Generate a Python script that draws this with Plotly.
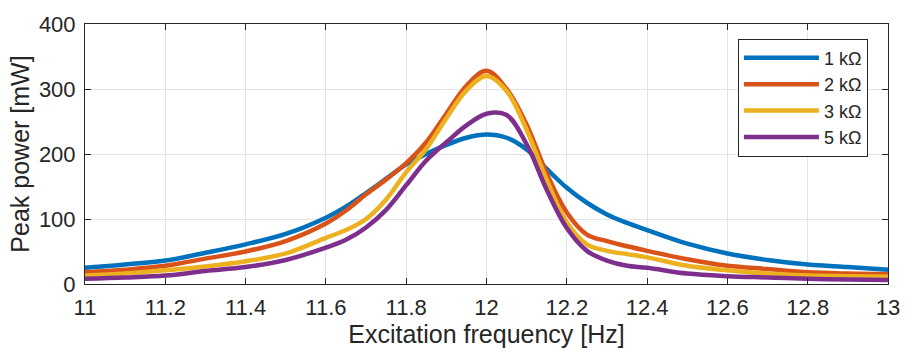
import plotly.graph_objects as go

freq = [11.0, 11.1, 11.2, 11.3, 11.4, 11.5, 11.6, 11.65, 11.7, 11.75, 11.8, 11.85, 11.9, 11.95,
        12.0, 12.05, 12.1, 12.15, 12.2, 12.25, 12.3, 12.35, 12.4, 12.5, 12.6, 12.7, 12.8, 12.9, 13.0]

p_1k = [25, 30, 36, 48, 61, 77, 102, 119, 140, 162, 184, 200, 214, 225,
        230, 225, 207, 177, 148, 125, 107, 94, 83, 62, 47, 37, 30, 26, 22]
p_2k = [18, 22, 28, 39, 50, 66, 93, 113, 138, 161, 186, 218, 262, 305,
        328, 300, 245, 170, 110, 76, 66, 58, 51, 38, 28, 23, 18, 16, 15]
p_3k = [13, 16, 21, 27, 35, 47, 71, 83, 100, 130, 172, 208, 255, 298,
        320, 297, 237, 160, 95, 61, 51, 46, 41, 28, 21, 16, 13, 12, 11]
p_5k = [8, 10, 13, 20, 26, 37, 56, 68, 87, 114, 152, 190, 218, 244,
        262, 260, 215, 145, 86, 51, 36, 28, 25, 16, 12, 10, 8, 7, 6]

names = ["1 kΩ", "2 kΩ", "3 kΩ", "5 kΩ"]
colors = ["#0072BD", "#D95319", "#EDB120", "#7E2F8E"]
series = [p_1k, p_2k, p_3k, p_5k]

x_ticks = [11.0, 11.2, 11.4, 11.6, 11.8, 12.0, 12.2, 12.4, 12.6, 12.8, 13.0]
x_labels = ["11", "11.2", "11.4", "11.6", "11.8", "12", "12.2", "12.4", "12.6", "12.8", "13"]
y_ticks = [0, 100, 200, 300, 400]

fig = go.Figure()
for name, col, ys in zip(names, colors, series):
    fig.add_trace(go.Scatter(x=freq, y=ys, name=name, mode="lines",
                             line=dict(color=col, width=4.5, shape="spline", smoothing=1.0)))

axis_col = "#262626"
fig.update_layout(
    width=912, height=354,
    margin=dict(l=85, r=15, t=16, b=70),
    paper_bgcolor="white", plot_bgcolor="white",
    font=dict(family="Liberation Sans, Arial, sans-serif", size=22, color=axis_col),
    showlegend=True,
    legend=dict(x=0.975, y=0.944, xanchor="right", yanchor="top",
                bgcolor="white", bordercolor=axis_col, borderwidth=1,
                itemwidth=75,
                font=dict(size=18, color=axis_col), tracegroupgap=0),
    xaxis=dict(range=[11, 13], tickvals=x_ticks, ticktext=x_labels,
               showgrid=True, gridcolor="#e3e3e3", gridwidth=1,
               showline=True, linecolor=axis_col, linewidth=1, mirror="ticks",
               ticks="inside", ticklen=6, tickcolor=axis_col,
               zeroline=False, ticklabelstandoff=4,
               tickfont=dict(size=22),
               title=dict(text="Excitation frequency [Hz]", font=dict(size=25), standoff=4)),
    yaxis=dict(range=[0, 400], tickvals=y_ticks,
               showgrid=True, gridcolor="#e3e3e3", gridwidth=1,
               showline=True, linecolor=axis_col, linewidth=1, mirror="ticks",
               ticks="inside", ticklen=6, tickcolor=axis_col,
               zeroline=False, ticklabelstandoff=4,
               tickfont=dict(size=22),
               title=dict(text="Peak power [mW]", font=dict(size=25), standoff=2)),
)

fig.write_html("out.html")
